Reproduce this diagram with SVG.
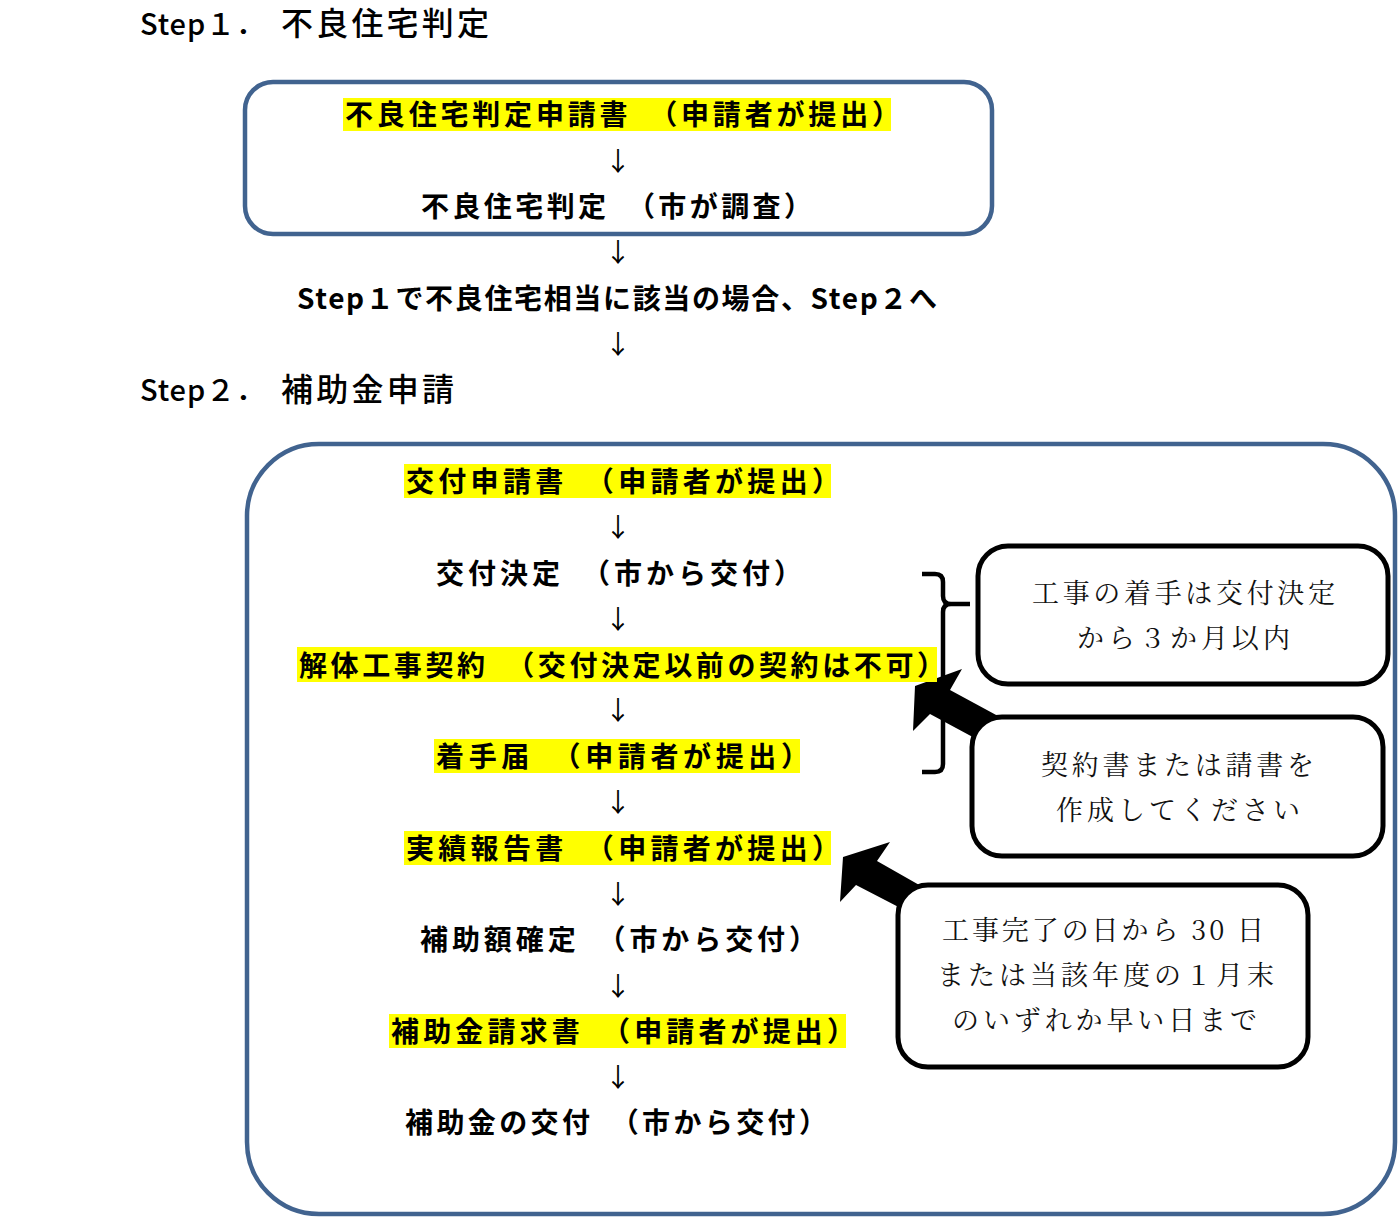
<svg xmlns="http://www.w3.org/2000/svg" width="1400" height="1218" viewBox="0 0 1400 1218">
<style>
.g{font-family:"Noto Sans CJK JP","Noto Sans CJK SC",sans-serif;font-weight:bold;font-size:28px;fill:#000}
.h{font-family:"Noto Sans CJK JP",sans-serif;font-weight:500;font-size:29px;fill:#000}
.hk{font-family:"Noto Sans CJK JP",sans-serif;font-weight:500;font-size:32px;fill:#000}
.m{font-family:"Noto Serif CJK JP","Noto Sans CJK JP",serif;font-weight:normal;font-size:27px;fill:#111}
.ar{font-family:"Noto Sans CJK JP",sans-serif;font-size:26px;fill:#000;text-anchor:middle}
.hl{fill:#ffff00}
.frame{fill:none;stroke:#41638f;stroke-width:4.5}
.call{fill:#fff;stroke:#000;stroke-width:5}
.blk{fill:#000}
</style>
<rect width="1400" height="1218" fill="#fff"/>

<text class="h" x="140" y="35" textLength="125">Step１．</text>
<text class="hk" x="281" y="35" textLength="208">不良住宅判定</text>
<text class="h" x="140" y="401" textLength="125">Step２．</text>
<text class="hk" x="281" y="401" textLength="173">補助金申請</text>

<g id="step1-box">
<rect class="frame" x="245" y="82" width="747" height="152" rx="28"/>
</g>
<g id="step2-box">
<rect class="frame" x="247" y="444" width="1148" height="770" rx="72"/>
</g>

<g id="connectors">
<text class="ar" x="618" y="171">↓</text>
<text class="ar" x="618" y="262">↓</text>
<text class="ar" x="618" y="354">↓</text>
<text class="ar" x="618" y="537">↓</text>
<text class="ar" x="618" y="629">↓</text>
<text class="ar" x="618" y="720">↓</text>
<text class="ar" x="618" y="812">↓</text>
<text class="ar" x="618" y="904">↓</text>
<text class="ar" x="618" y="996">↓</text>
<text class="ar" x="618" y="1087">↓</text>
<path d="M922,574 L935,574 Q943,574 943,582 L943,596 Q943,604 951,604 L970,604 M951,604 Q943,604 943,612 L943,764 Q943,772 935,772 L922,772" fill="none" stroke="#000" stroke-width="4.5"/>
<polygon class="blk" points="915,686 962,669 950,690 998,716 982,742 930,714 913,731"/>
<polygon class="blk" points="843,857 890,842 877,861 928,890 912,914 856,885 840,902"/>
</g>

<g id="n1">
<rect class="hl" x="343" y="98" width="548" height="33"/>
<text class="g" x="345" y="125" textLength="555">不良住宅判定申請書　（申請者が提出）</text>
</g>
<g id="n2">
<text class="g" x="421" y="217" textLength="391">不良住宅判定　（市が調査）</text>
</g>
<g id="n3">
<text class="g" x="297" y="309" textLength="640">Step１で不良住宅相当に該当の場合、Step２へ</text>
</g>

<g id="s2-1">
<rect class="hl" x="404" y="464" width="427" height="34"/>
<text class="g" x="406" y="492" textLength="434">交付申請書　（申請者が提出）</text>
</g>
<g id="s2-2">
<text class="g" x="436" y="584" textLength="366">交付決定　（市から交付）</text>
</g>
<g id="s2-3">
<rect class="hl" x="297" y="647" width="640" height="35"/>
<text class="g" x="299" y="676" textLength="646">解体工事契約　（交付決定以前の契約は不可）</text>
</g>
<g id="s2-4">
<rect class="hl" x="434" y="739" width="366" height="34"/>
<text class="g" x="436" y="767" textLength="373">着手届　（申請者が提出）</text>
</g>
<g id="s2-5">
<rect class="hl" x="404" y="831" width="427" height="34"/>
<text class="g" x="406" y="859" textLength="434">実績報告書　（申請者が提出）</text>
</g>
<g id="s2-6">
<text class="g" x="420" y="950" textLength="397">補助額確定　（市から交付）</text>
</g>
<g id="s2-7">
<rect class="hl" x="389" y="1014" width="457" height="34"/>
<text class="g" x="391" y="1042" textLength="464">補助金請求書　（申請者が提出）</text>
</g>
<g id="s2-8">
<text class="g" x="405" y="1133" textLength="422">補助金の交付　（市から交付）</text>
</g>

<g id="callout1">
<rect class="call" x="978" y="546" width="410" height="138" rx="30"/>
<text class="m" x="1032" y="603" textLength="303">工事の着手は交付決定</text>
<text class="m" x="1077" y="648" textLength="213">から３か月以内</text>
</g>
<g id="callout2">
<rect class="call" x="972" y="717" width="411" height="139" rx="30"/>
<text class="m" x="1041" y="775" textLength="273">契約書または請書を</text>
<text class="m" x="1056" y="820" textLength="244">作成してください</text>
</g>
<g id="callout3">
<rect class="call" x="898" y="885" width="410" height="182" rx="30"/>
<text class="m" x="942" y="940" textLength="322">工事完了の日から 30 日</text>
<text class="m" x="937" y="985" textLength="337">または当該年度の１月末</text>
<text class="m" x="952" y="1030" textLength="305">のいずれか早い日まで</text>
</g>
</svg>
